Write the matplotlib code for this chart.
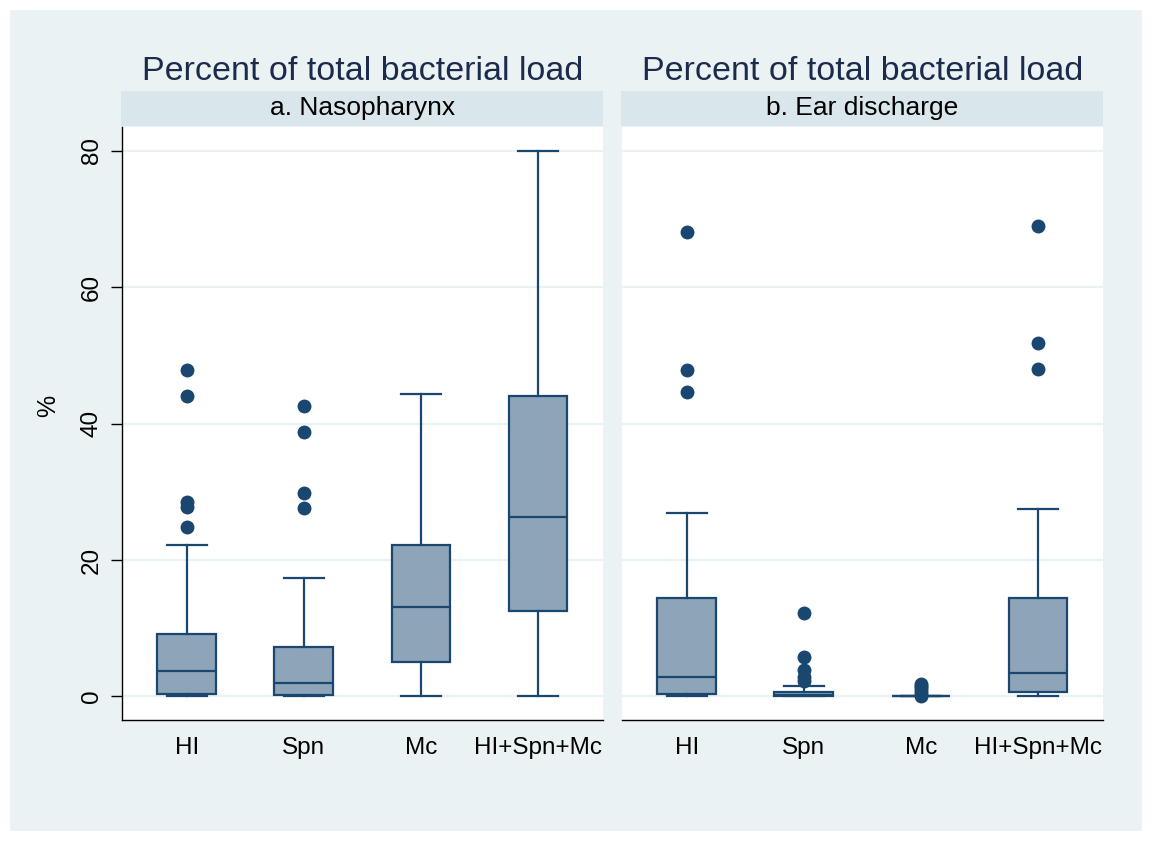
import matplotlib
matplotlib.use("Agg")
import matplotlib.pyplot as plt
from matplotlib.patches import Rectangle

plt.rcParams['font.family'] = ['Liberation Sans', 'DejaVu Sans']

groups = ["HI", "Spn", "Mc", "HI+Spn+Mc"]

# a. Nasopharynx
naso_whislo = [0.0, 0.0, 0.0, 0.0]
naso_q1 = [0.3, 0.15, 5.0, 12.5]
naso_med = [3.7, 1.95, 13.1, 26.3]
naso_q3 = [9.1, 7.2, 22.2, 44.0]
naso_whishi = [22.2, 17.4, 44.4, 80.0]
naso_fliers = [[47.9, 44.0, 28.5, 27.8, 24.8],
               [42.6, 38.8, 29.9, 27.7],
               [],
               []]

# b. Ear discharge
ear_whislo = [0.0, 0.0, 0.0, 0.0]
ear_q1 = [0.3, 0.0, 0.0, 0.6]
ear_med = [2.8, 0.15, 0.0, 3.4]
ear_q3 = [14.4, 0.6, 0.0, 14.4]
ear_whishi = [26.9, 1.6, 0.0, 27.5]
ear_fliers = [[68.1, 47.9, 44.6],
              [12.3, 5.8, 3.9, 2.8, 2.2],
              [0.1, 0.4, 0.8, 1.2, 1.6, 1.9],
              [69.0, 51.8, 48.0]]

panel_titles = ["a. Nasopharynx", "b. Ear discharge"]
main_title = "Percent of total bacterial load"

navy = '#1a476f'
title_col = '#1c2b4b'
box_fill = '#8ea4b9'
outer_bg = '#eaf2f3'
strip_bg = '#d9e6eb'

W, H = 1152, 841
fig = plt.figure(figsize=(W / 100, H / 100), dpi=100, facecolor='white')
fig.patches.append(Rectangle((10 / W, 1 - 831 / H), 1132 / W, 821 / H,
                             transform=fig.transFigure, facecolor=outer_bg,
                             edgecolor='none', zorder=-2))

panels = [
    (naso_whislo, naso_q1, naso_med, naso_q3, naso_whishi, naso_fliers),
    (ear_whislo, ear_q1, ear_med, ear_q3, ear_whishi, ear_fliers),
]
lefts = [122, 622]
pw = 481
top, bottom = 127, 720

for i, (wlo, q1, med, q3, whi, fl) in enumerate(panels):
    x0 = lefts[i]
    ax = fig.add_axes([x0 / W, 1 - bottom / H, pw / W, (bottom - top) / H])
    ax.set_zorder(1)
    ax.set_facecolor('white')
    stats = []
    for k in range(len(groups)):
        stats.append(dict(whislo=wlo[k], q1=q1[k], med=med[k], q3=q3[k],
                          whishi=whi[k], fliers=fl[k], label=groups[k]))
    ax.bxp(stats, positions=[1, 2, 3, 4], widths=0.5, patch_artist=True,
           boxprops=dict(facecolor=box_fill, edgecolor=navy, linewidth=1.6),
           medianprops=dict(color=navy, linewidth=1.6),
           whiskerprops=dict(color=navy, linewidth=1.6),
           capprops=dict(color=navy, linewidth=1.6),
           capwidths=0.34,
           flierprops=dict(marker='o', markerfacecolor=navy,
                           markeredgecolor=navy, markersize=9))
    ax.set_xlim(0.447, 4.557)
    ax.set_ylim(-3.45, 83.5)
    ax.set_yticks([0, 20, 40, 60, 80])
    ax.grid(axis='y', color=outer_bg, linewidth=1.6)
    ax.set_axisbelow(True)
    ax.tick_params(axis='x', length=0, pad=12, labelsize=17.5)
    for s in ['top', 'right']:
        ax.spines[s].set_visible(False)
    ax.spines['bottom'].set_color('black')
    ax.spines['bottom'].set_linewidth(1.0)
    if i == 0:
        ax.spines['left'].set_color('black')
        ax.spines['left'].set_linewidth(1.0)
        ax.tick_params(axis='y', length=8, width=1.0, pad=6, labelsize=17.5,
                       labelrotation=90)
        for t in ax.get_yticklabels():
            t.set_va('center')
        ax.set_ylabel('%', fontsize=18)
        ax.yaxis.set_label_coords(-0.128, 0.53)
    else:
        ax.spines['left'].set_visible(False)
        ax.tick_params(axis='y', length=0, labelleft=False)

    # strip header
    fig.patches.append(Rectangle(((x0 - 1) / W, 1 - 126 / H), (pw + 1) / W, 35 / H,
                                 transform=fig.transFigure, facecolor=strip_bg,
                                 edgecolor='none', zorder=-1))
    fig.text((x0 + pw / 2) / W, 1 - 108 / H, panel_titles[i], ha='center',
             va='center', fontsize=19, color='black')
    fig.text((x0 + pw / 2) / W, 1 - 80 / H, main_title, ha='center',
             va='baseline', fontsize=24.5, color=title_col)

fig.savefig('out.png', dpi=100, facecolor='white')
